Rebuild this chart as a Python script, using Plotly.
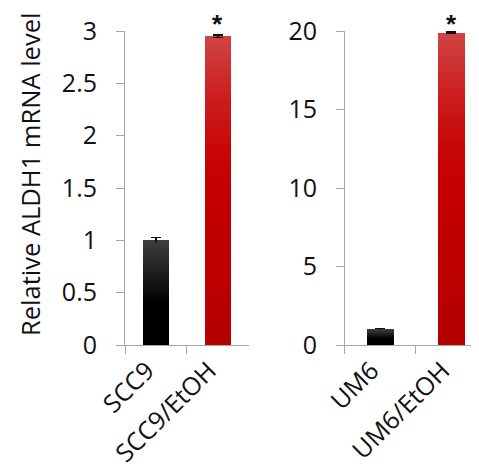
import plotly.graph_objects as go

# ---- data ----
cats_left = ["SCC9", "SCC9/EtOH"]
vals_left = [1.0, 2.95]
err_left = [0.03, 0.012]
cats_right = ["UM6", "UM6/EtOH"]
vals_right = [1.0, 19.9]
err_right = [0.06, 0.04]
sig_left = [False, True]
sig_right = [False, True]
left_ticks = [0, 0.5, 1, 1.5, 2, 2.5, 3]
left_ticktext = ["0", "0.5", "1", "1.5", "2", "2.5", "3"]
right_ticks = [0, 5, 10, 15, 20]
right_ticktext = ["0", "5", "10", "15", "20"]
y_title = "Relative ALDH1 mRNA level"

FONT = "Open Sans"
N = 40


def black_col(f):
    g = 0 if f < 0.4 else int(round(62 * (f - 0.4) / 0.6))
    return f"rgb({g},{g},{g})"


def red_col(f):
    if f < 0.5:
        r = 0xB5 + (0xC6 - 0xB5) * f / 0.5
        gb = 0
    else:
        t = (f - 0.5) / 0.5
        r = 0xC6 + (0xD0 - 0xC6) * t
        gb = 0x46 * t ** 1.6
    return f"rgb({int(r)},{int(gb)},{int(gb)})"


fig = go.Figure()


def add_panel(cats, vals, errs, xa, ya, width):
    for k in range(N):
        ftop = (N - k) / N
        fmid = (N - k - 0.5) / N
        kw = {}
        if k == 0:
            kw["error_y"] = dict(type="data", array=errs, visible=True,
                                 color="#111111", thickness=1.2, width=5)
        fig.add_trace(go.Bar(
            x=cats, y=[v * ftop for v in vals],
            marker=dict(color=[black_col(fmid), red_col(fmid)], line=dict(width=0)),
            width=width, xaxis=xa, yaxis=ya, showlegend=False,
            hoverinfo="skip", **kw))


add_panel(cats_left, vals_left, err_left, "x", "y", 0.42)
add_panel(cats_right, vals_right, err_right, "x2", "y2", 0.39)

star_font = dict(family="Liberation Sans", size=26, color="#111")
annots = []
for c, v, e, s in zip(cats_left, vals_left, err_left, sig_left):
    if s:
        annots.append(dict(x=c, y=v + e, xref="x", yref="y", text="<b>*</b>",
                           showarrow=False, yanchor="bottom", yshift=-6,
                           font=star_font))
for c, v, e, s in zip(cats_right, vals_right, err_right, sig_right):
    if s:
        annots.append(dict(x=c, y=v + e, xref="x2", yref="y2", text="<b>*</b>",
                           showarrow=False, yanchor="bottom", yshift=-9,
                           font=star_font))
annots.append(dict(x=-0.262, y=0.542, xref="paper", yref="paper", text=y_title,
                   textangle=-90, showarrow=False, xanchor="center", yanchor="middle",
                   font=dict(family=FONT, size=25.5, color="#111")))

axis_common = dict(showline=True, linecolor="#a6a6a6", linewidth=1,
                   ticks="outside", ticklen=8, tickcolor="#a6a6a6",
                   showgrid=False, zeroline=False)
yfont = dict(family=FONT, size=25, color="#111")
xfont = dict(family=FONT, size=25, color="#111")

fig.update_layout(
    width=479, height=475,
    margin=dict(l=117, r=0, t=23, b=137.5),
    paper_bgcolor="white", plot_bgcolor="white",
    barmode="overlay", bargap=0,
    annotations=annots,
    xaxis=dict(domain=[0, 0.3425], tickangle=-45, tickson="boundaries",
               anchor="y", tickfont=xfont, ticklabelshift=-9,
               **axis_common),
    yaxis=dict(range=[0, 3], tickvals=left_ticks, ticktext=left_ticktext,
               anchor="x", ticklabelstandoff=14, tickfont=yfont, **axis_common),
    xaxis2=dict(domain=[0.6077, 1], tickangle=-45, tickson="boundaries",
                anchor="y2", tickfont=xfont, ticklabelshift=-9,
                **axis_common),
    yaxis2=dict(range=[0, 20], tickvals=right_ticks, ticktext=right_ticktext,
                anchor="x2", ticklabelstandoff=14, tickfont=yfont, **axis_common),
)

fig.write_html("out.html")
